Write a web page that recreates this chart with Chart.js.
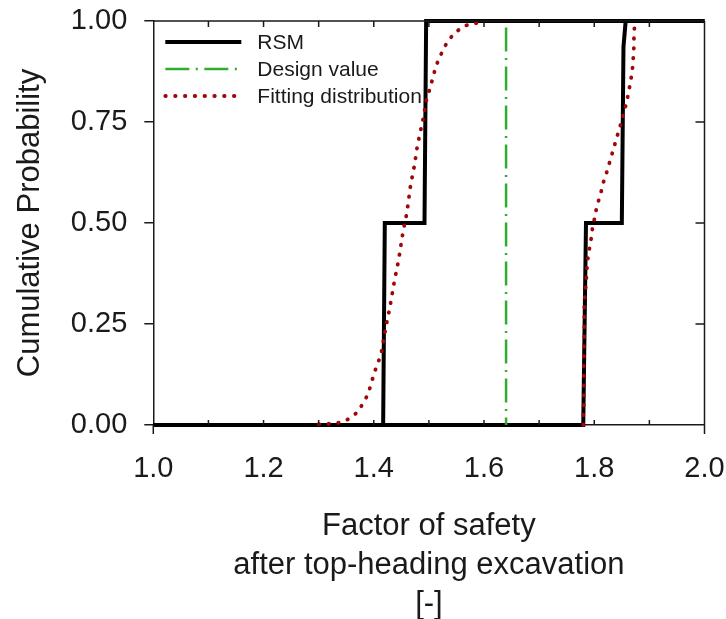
<!DOCTYPE html>
<html>
<head>
<meta charset="utf-8">
<script src="https://cdn.jsdelivr.net/npm/chart.js@4"></script>
<style>
  body { margin: 0; background: #fff; }
  #wrap { width: 726px; height: 619px; }
</style>
</head>
<body>
<div id="wrap"><canvas id="cdf-chart"></canvas></div>
<script>
// values
const rsm_a_x = [1.0, 1.417, 1.420, 1.492, 1.495, 2.0];
const rsm_a_y = [0, 0, 0.5, 0.5, 1, 1];
const rsm_b_x = [1.0, 1.780, 1.785, 1.850, 1.853, 1.857, 2.0];
const rsm_b_y = [0, 0, 0.5, 0.5, 0.936, 1, 1];

const design_x = [1.64, 1.64];
const design_y = [1, 0];

const fit_a_x = [1.300, 1.318, 1.335, 1.353, 1.369, 1.381, 1.390, 1.400, 1.406, 1.413, 1.422, 1.429, 1.438, 1.445, 1.453, 1.460, 1.467, 1.474, 1.479, 1.490, 1.496, 1.502, 1.511, 1.517, 1.525, 1.534, 1.548, 1.565, 1.582, 1.599];
const fit_a_y = [0.002, 0.003, 0.005, 0.014, 0.030, 0.054, 0.078, 0.125, 0.149, 0.173, 0.243, 0.290, 0.361, 0.408, 0.478, 0.525, 0.596, 0.644, 0.691, 0.761, 0.809, 0.833, 0.879, 0.903, 0.926, 0.950, 0.972, 0.988, 0.994, 0.997];
const fit_b_x = [1.780, 1.780, 1.781, 1.781, 1.781, 1.782, 1.782, 1.785, 1.787, 1.789, 1.792, 1.795, 1.797, 1.801, 1.804, 1.809, 1.814, 1.818, 1.824, 1.829, 1.834, 1.839, 1.844, 1.849, 1.854, 1.858, 1.862, 1.865, 1.868, 1.870, 1.871, 1.872, 1.872, 1.873];
const fit_b_y = [0, 0.019, 0.041, 0.066, 0.159, 0.231, 0.301, 0.349, 0.396, 0.419, 0.443, 0.466, 0.491, 0.514, 0.537, 0.561, 0.585, 0.608, 0.631, 0.656, 0.679, 0.703, 0.726, 0.749, 0.773, 0.796, 0.821, 0.844, 0.868, 0.891, 0.915, 0.938, 0.961, 0.986];

const x_ticks = [1.0, 1.2, 1.4, 1.6, 1.8, 2.0];
const x_minor = [1.1, 1.2, 1.3, 1.4, 1.5, 1.6, 1.7, 1.8, 1.9];
const y_ticks = [0, 0.25, 0.5, 0.75, 1.0];

const FONT = "'Liberation Sans', Arial, sans-serif";
const INK = "#1a1a1a";

function pts(xs, ys) {
    return xs.map((x, i) => ({ x: x, y: ys[i] }));
}

// inner ticks + top/right frame lines
const framePlugin = {
    id: "frame",
    afterDraw(chart) {
        const { ctx, chartArea: a, scales } = chart;
        ctx.save();
        ctx.strokeStyle = INK;
        ctx.lineWidth = 1.5;
        ctx.beginPath();
        ctx.moveTo(a.left, a.top);
        ctx.lineTo(a.right, a.top);
        ctx.moveTo(a.right, a.top);
        ctx.lineTo(a.right, a.bottom + 9);
        ctx.moveTo(a.left, a.bottom);
        ctx.lineTo(a.left, a.bottom + 9);
        x_minor.forEach(v => {
            const px = scales.x.getPixelForValue(v);
            ctx.moveTo(px, a.top);
            ctx.lineTo(px, a.top + 6);
            ctx.moveTo(px, a.bottom);
            ctx.lineTo(px, a.bottom - 5);
        });
        [0.25, 0.5, 0.75].forEach(v => {
            const py = scales.y.getPixelForValue(v);
            ctx.moveTo(a.right, py);
            ctx.lineTo(a.right - 9, py);
        });
        ctx.stroke();
        ctx.restore();
    }
};

// legend drawn inside the plot, top-left
const legendPlugin = {
    id: "innerLegend",
    afterDraw(chart) {
        const { ctx, chartArea: a } = chart;
        const rows = [0, 2, 3];
        ctx.save();
        ctx.font = "21px " + FONT;
        ctx.textBaseline = "middle";
        rows.forEach((di, i) => {
            const ds = chart.data.datasets[di];
            const y = a.top + 21 + i * 27;
            ctx.beginPath();
            ctx.strokeStyle = ds.borderColor;
            ctx.lineWidth = ds.borderWidth;
            ctx.lineCap = ds.borderCapStyle || "butt";
            ctx.setLineDash(ds.borderDash || []);
            ctx.lineDashOffset = 0;
            ctx.moveTo(a.left + 12, y);
            ctx.lineTo(a.left + 88, y);
            ctx.stroke();
            ctx.setLineDash([]);
            ctx.fillStyle = INK;
            ctx.fillText(ds.label, a.left + 104, y + 1);
        });
        ctx.restore();
    }
};

const ctx = document.getElementById("cdf-chart").getContext("2d");
new Chart(ctx, {
    type: "scatter",
    data: {
        datasets: [
            {
                label: "RSM",
                data: pts(rsm_a_x, rsm_a_y),
                showLine: true,
                borderColor: "#000",
                borderWidth: 4,
                pointRadius: 0,
                clip: false,
                order: 2
            },
            {
                label: "RSM b",
                data: pts(rsm_b_x, rsm_b_y),
                showLine: true,
                borderColor: "#000",
                borderWidth: 4,
                pointRadius: 0,
                clip: false,
                order: 2
            },
            {
                label: "Design value",
                data: pts(design_x, design_y),
                showLine: true,
                borderColor: "#2fad2f",
                borderWidth: 2.5,
                borderDash: [24, 6.5, 2, 6.5],
                borderDashOffset: 32.5,
                pointRadius: 0,
                clip: false,
                order: 1
            },
            {
                label: "Fitting distribution",
                data: pts(fit_a_x, fit_a_y),
                showLine: true,
                borderColor: "#a00808",
                borderWidth: 3.8,
                borderDash: [0.5, 9.3],
                borderCapStyle: "round",
                pointRadius: 0,
                clip: false,
                order: 0
            },
            {
                label: "Fitting b",
                data: pts(fit_b_x, fit_b_y),
                showLine: true,
                borderColor: "#a00808",
                borderWidth: 3.8,
                borderDash: [0.5, 9.3],
                borderCapStyle: "round",
                pointRadius: 0,
                clip: false,
                order: 0
            }
        ]
    },
    options: {
        responsive: true,
        maintainAspectRatio: false,
        animation: false,
        layout: {
            padding: { top: 21, right: 21.5, left: 0, bottom: 0 }
        },
        plugins: {
            legend: { display: false },
            tooltip: { enabled: false }
        },
        scales: {
            x: {
                type: "linear",
                min: 1.0,
                max: 2.0,
                afterBuildTicks: (axis) => { axis.ticks = x_ticks.map(v => ({ value: v })); },
                afterFit: (axis) => {
                    axis.height = 194;
                    axis.paddingLeft = 0;
                    axis.paddingRight = 0;
                },
                ticks: {
                    callback: (v) => Number(v).toFixed(1),
                    font: { family: FONT, size: 29 },
                    color: INK,
                    padding: 27,
                    maxRotation: 0
                },
                grid: { display: true, drawOnChartArea: false, drawTicks: false, color: INK },
                border: { display: true, color: INK, width: 1.5 },
                title: {
                    display: true,
                    text: ["Factor of safety", "after top-heading excavation", "[-]"],
                    font: { family: FONT, size: 31, lineHeight: 1.26 },
                    color: INK,
                    padding: { top: 0, bottom: -5 }
                }
            },
            y: {
                type: "linear",
                min: 0,
                max: 1,
                afterBuildTicks: (axis) => { axis.ticks = y_ticks.map(v => ({ value: v })); },
                afterFit: (axis) => {
                    axis.width = 153.3;
                    axis.paddingTop = 0;
                    axis.paddingBottom = 0;
                },
                ticks: {
                    callback: (v) => Number(v).toFixed(2),
                    font: { family: FONT, size: 29 },
                    color: INK,
                    padding: 17
                },
                grid: { display: true, drawOnChartArea: false, drawTicks: true, tickLength: 9, color: INK, lineWidth: 1.5 },
                border: { display: true, color: INK, width: 1.5 },
                title: {
                    display: true,
                    text: "Cumulative Probability",
                    font: { family: FONT, size: 31 },
                    color: INK,
                    padding: { top: 12, bottom: 0 }
                }
            }
        }
    },
    plugins: [framePlugin, legendPlugin]
});
</script>
</body>
</html>
